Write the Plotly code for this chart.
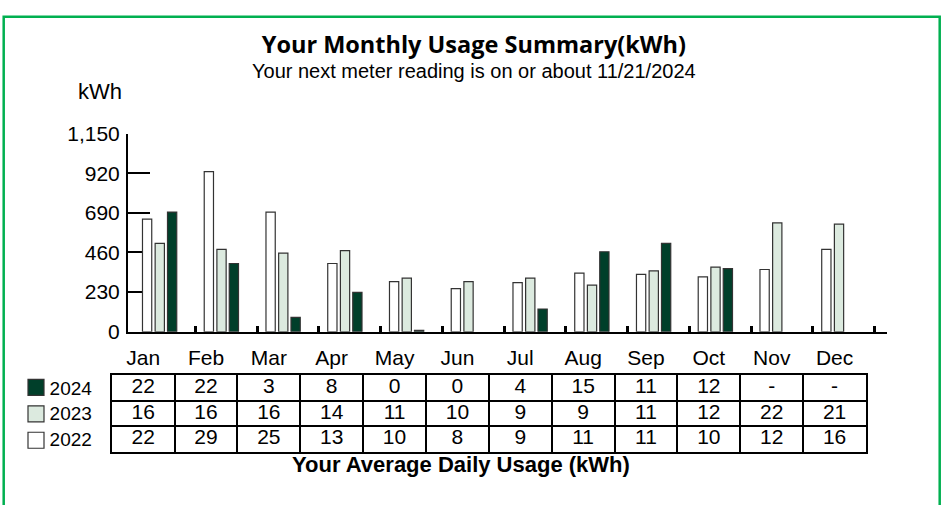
import plotly.graph_objects as go

# ---------------- data ----------------
months = ["Jan", "Feb", "Mar", "Apr", "May", "Jun", "Jul", "Aug", "Sep", "Oct", "Nov", "Dec"]
years = ["2022", "2023", "2024"]

# monthly usage (kWh)
kwh_2022 = [653, 929, 694, 396, 291, 250, 285, 340, 333, 318, 361, 478]
kwh_2023 = [513, 478, 456, 471, 311, 291, 311, 270, 353, 375, 631, 624]
kwh_2024 = [694, 396, 83, 228, 8, 0, 132, 464, 513, 366, None, None]

# average daily usage (kWh) from the table
daily_2022 = [22, 29, 25, 13, 10, 8, 9, 11, 11, 10, 12, 16]
daily_2023 = [16, 16, 16, 14, 11, 10, 9, 9, 11, 12, 22, 21]
daily_2024 = [22, 22, 3, 8, 0, 0, 4, 15, 11, 12, None, None]

y_ticks = [0, 230, 460, 690, 920, 1150]

# ---------------- styles ----------------
FONT = "Liberation Sans, Arial, sans-serif"
colors = {"2022": "#FFFFFF", "2023": "#DCEADF", "2024": "#003F2A"}
bar_offsets = {"2022": -0.355, "2023": -0.15, "2024": 0.05}
BAR_W = 0.15
OUTLINE = "#333333"

kwh = {"2022": kwh_2022, "2023": kwh_2023, "2024": kwh_2024}
daily = {"2022": daily_2022, "2023": daily_2023, "2024": daily_2024}

xpos = list(range(len(months)))
boundaries = [i + 0.5 for i in xpos]

fig = go.Figure()

# bars (no outline on empty bars)
for yr in years:
    fig.add_trace(go.Bar(
        x=xpos, y=kwh[yr], width=BAR_W, offset=bar_offsets[yr],
        marker=dict(color=colors[yr],
                    line=dict(color=OUTLINE,
                              width=[0 if not v else 1.2 for v in kwh[yr]])),
        name=yr, showlegend=False, hovertext=months,
        xaxis="x", yaxis="y",
    ))

# table values
for r, yr in enumerate(years):
    fig.add_trace(go.Scatter(
        x=xpos, y=[r] * len(xpos), mode="text",
        text=["-" if v is None else str(v) for v in daily[yr]],
        textposition="middle center",
        textfont=dict(family=FONT, size=21, color="#000"),
        showlegend=False, hoverinfo="skip", cliponaxis=False,
        xaxis="x2", yaxis="y2",
    ))

# legend swatches (2024 on top), labels come from the table's row headers
for yr in reversed(years):
    fig.add_trace(go.Scatter(
        x=[None], y=[None], mode="markers", name=" ",
        marker=dict(symbol="square", size=16, color=colors[yr],
                    line=dict(color=OUTLINE, width=1.2)),
        showlegend=True, xaxis="x2", yaxis="y2",
    ))

W, H = 942, 505


def px_x(p):
    return p / W


def px_y(p):
    return (H - p) / H


fig.update_layout(
    width=W, height=H, autosize=False,
    margin=dict(l=0, r=0, t=0, b=0),
    paper_bgcolor="white", plot_bgcolor="white",
    font=dict(family=FONT, size=21, color="#000"),
    barmode="overlay",
    showlegend=True,
    legend=dict(x=px_x(16), y=px_y(374.3), xanchor="left", yanchor="top",
                font=dict(size=18), bgcolor="rgba(0,0,0,0)",
                itemclick=False, itemdoubleclick=False,
                tracegroupgap=0),
    xaxis=dict(domain=[px_x(128), px_x(887.3)], range=[-0.5895, 11.707],
               anchor="y", tickmode="array", tickvals=boundaries,
               ticks="inside", ticklen=6, tickwidth=2.5, tickcolor="#000",
               showticklabels=False, showline=True, linecolor="#000",
               linewidth=2, showgrid=False, zeroline=False, fixedrange=True),
    yaxis=dict(domain=[px_y(335), px_y(127.3)], range=[0, 1150],
               anchor="x", tickmode="array", tickvals=y_ticks, tickformat=",",
               ticks="inside", ticklen=22, tickwidth=1.5, tickcolor="#000",
               showline=True, linecolor="#000", linewidth=2,
               showgrid=False, zeroline=False, layer="below traces",
               tickfont=dict(size=21), ticklabelstandoff=2, fixedrange=True),
    xaxis2=dict(domain=[px_x(111.7), px_x(866)], range=[-0.5, 11.5],
                anchor="y2", side="top", tickmode="array", tickvals=xpos,
                ticktext=months, ticks="", tickfont=dict(size=21),
                showline=True, mirror=True, linecolor="#000", linewidth=2,
                showgrid=False, zeroline=False, fixedrange=True,
                minor=dict(tickmode="array", tickvals=boundaries[:-1],
                           showgrid=True, gridcolor="#000", gridwidth=2,
                           ticks="")),
    yaxis2=dict(domain=[px_y(460.7), px_y(380.7)], range=[-0.5, len(years) - 0.5],
                anchor="x2", tickmode="array", tickvals=list(range(len(years))),
                ticktext=years, ticks="", tickfont=dict(size=19),
                ticklabelstandoff=14,
                showline=True, mirror=True, linecolor="#000", linewidth=2,
                showgrid=False, zeroline=False, fixedrange=True,
                minor=dict(tickmode="array",
                           tickvals=[r + 0.5 for r in range(len(years) - 1)],
                           showgrid=True, gridcolor="#000", gridwidth=2,
                           ticks="")),
)

fig.add_annotation(
    x=px_x(474), y=px_y(45.5), xref="paper", yref="paper",
    text=("<span style='font-family:Open Sans, sans-serif;font-size:23.5px'>"
          "<b>Your Monthly Usage Summary(kWh)</b></span><br>"
          "<span style='font-size:20px'>Your next meter reading is on or about 11/21/2024</span>"),
    showarrow=False, xanchor="center", yanchor="middle", align="center",
    font=dict(family=FONT, size=19.2, color="#000"))
fig.add_annotation(x=px_x(100), y=px_y(83.5), xref="paper", yref="paper",
                   text="kWh", showarrow=False, xanchor="center", yanchor="middle",
                   font=dict(family=FONT, size=22, color="#000"))
fig.add_annotation(x=px_x(460.5), y=px_y(474), xref="paper", yref="paper",
                   text="<b>Your Average Daily Usage (kWh)</b>",
                   showarrow=False, xanchor="center", yanchor="middle",
                   font=dict(family=FONT, size=22, color="#000"))

fig.add_shape(type="rect", xref="paper", yref="paper",
              x0=px_x(3.7), x1=px_x(939.7), y0=-0.1, y1=px_y(5),
              line=dict(color="#00B050", width=2.5), fillcolor="rgba(0,0,0,0)",
              layer="above")

# pin the figure to the top-left corner of the page (no body margin)
post = (
    "document.documentElement.style.margin='0';"
    "document.body.style.margin='0';document.body.style.padding='0';"
    "document.body.style.overflow='hidden';"
    "var gd=document.getElementById('{plot_id}');"
    "gd.style.position='fixed';gd.style.left='0px';gd.style.top='0px';"
)

fig.write_html("out.html", post_script=post, config={"displayModeBar": False})
